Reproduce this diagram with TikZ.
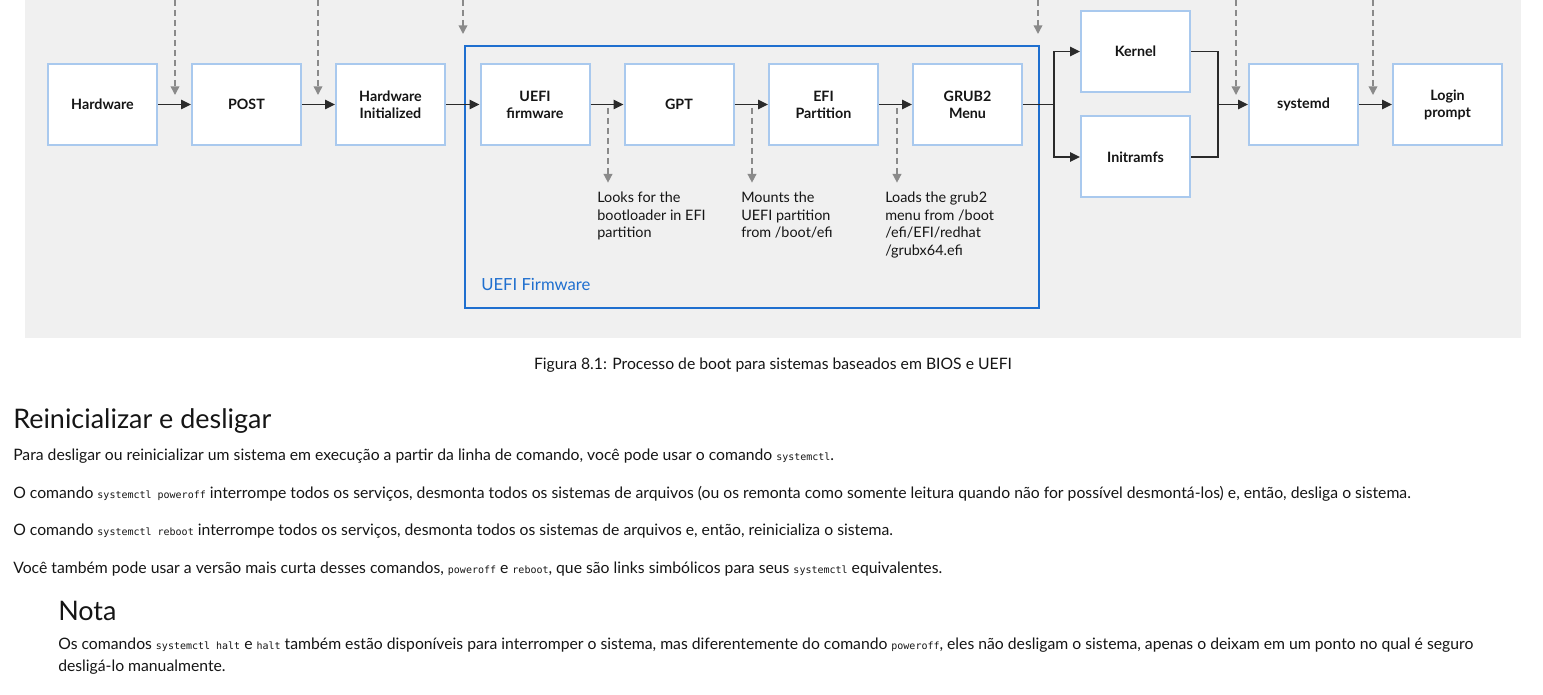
\documentclass[tikz,border=0pt]{standalone}
\usepackage{fontspec}
\setmainfont{Lato}
\setmonofont{DejaVu Sans Mono}
\usetikzlibrary{arrows.meta}
\definecolor{bggray}{HTML}{F0F0F0}
\definecolor{boxblue}{HTML}{A9C9EE}
\definecolor{frameblue}{HTML}{1F6FCF}
\definecolor{darkline}{HTML}{2A2A2A}
\definecolor{dashgray}{HTML}{8A8A8A}
\definecolor{txt}{HTML}{151515}
\newcommand\mycode[1]{{\ttfamily\fontsize{7.5}{10}\selectfont #1}}
\tikzset{
  stepbox/.style={draw=boxblue, line width=1.5pt, fill=white, minimum width=81.75pt,
    minimum height=60.75pt, inner sep=0pt, align=center, text=txt,
    font=\bfseries\fontsize{10.7}{12.8}\selectfont},
  flowline/.style={draw=darkline, line width=1.1pt},
  flow/.style={flowline, -{Triangle[length=7.5pt,width=7pt]}},
  dflow/.style={draw=dashgray, line width=1.1pt, dash pattern=on 4.5pt off 3pt,
    -{Triangle[length=6.5pt,width=6.5pt]}},
  notetext/.style={inner sep=0pt, align=left, text=txt, font=\fontsize{10.8}{13.1}\selectfont},
  body/.style={inner sep=0pt, text=txt, font=\fontsize{11.8}{14}\selectfont},
  heading/.style={inner sep=0pt, text=txt, font=\fontsize{20.2}{24}\selectfont},
}
\begin{document}
\begin{tikzpicture}[x=0.75pt,y=-0.75pt]
\useasboundingbox (0,0) rectangle (1543,695);
\fill[bggray] (25,0) rectangle (1521,338);
% frame
\draw[frameblue, line width=1.5pt] (465,46) rectangle (1039,308);
\node[anchor=west, inner sep=0pt, text=frameblue, font=\fontsize{12.5}{15}\selectfont] (uefilab) at (481,284) {UEFI Firmware};
% boxes
\node[stepbox] (hw) at (102.5,104.5) {Hardware};
\node[stepbox] (post) at (246.5,104.5) {POST};
\node[stepbox] (hwi) at (390.5,104.5) {Hardware\\Initialized};
\node[stepbox] (uefi) at (535,104.5) {UEFI\\firmware};
\node[stepbox] (gpt) at (679,104.5) {GPT};
\node[stepbox] (efi) at (823.5,104.5) {EFI\\Partition};
\node[stepbox] (grub) at (967.5,104.5) {GRUB2\\Menu};
\node[stepbox] (kern) at (1135.5,51.5) {Kernel};
\node[stepbox] (initr) at (1135.5,157) {Initramfs};
\node[stepbox] (sysd) at (1303.5,104.5) {systemd};
\node[stepbox] (login) at (1447.5,104.5) {Login\\prompt};
% flow
\draw[flow] (hw.east) -- (post.west);
\draw[flow] (post.east) -- (hwi.west);
\draw[flow] (hwi.east) -- (uefi.west);
\draw[flow] (uefi.east) -- (gpt.west);
\draw[flow] (gpt.east) -- (efi.west);
\draw[flow] (efi.east) -- (grub.west);
\coordinate (sp) at (1054,104.5);
\draw[flowline] (grub.east) -- (sp);
\draw[flow] (sp) |- (kern.west);
\draw[flow] (sp) |- (initr.west);
\coordinate (mg) at (1218,104.5);
\draw[flowline] (kern.east) -| (mg);
\draw[flowline] (initr.east) -| (mg);
\draw[flow] (mg) -- (sysd.west);
\draw[flow] (sysd.east) -- (login.west);
% top dashed arrows
\foreach \x/\e [count=\i] in {175/95, 318/95, 463/34, 1038/34, 1236/95, 1373/95} {
  \coordinate (ts\i) at (\x,0);
  \coordinate (te\i) at (\x,\e);
  \draw[dflow] (ts\i) -- (te\i);
}
% notes
\node[notetext, anchor=north west] (n1) at (597,192) {Looks for the\\bootloader in EFI\\partition};
\node[notetext, anchor=north west] (n2) at (741,192) {Mounts the\\UEFI partition\\from /boot/efi};
\node[notetext, anchor=north west] (n3) at (885,192) {Loads the grub2\\menu from /boot\\/efi/EFI/redhat\\/grubx64.efi};
\coordinate (b1) at (608,108);
\coordinate (b2) at (752,108);
\coordinate (b3) at (897,108);
\draw[dflow, shorten >=7pt] (b1) -- (b1 |- n1.north);
\draw[dflow, shorten >=7pt] (b2) -- (b2 |- n2.north);
\draw[dflow, shorten >=7pt] (b3) -- (b3 |- n3.north);
% text below
\node[body] (cap) at (773,365) {Figura 8.1: Processo de boot para sistemas baseados em BIOS e UEFI};
\node[heading, anchor=west] (h1) at (13,421) {Reinicializar e desligar};
\node[body, anchor=west] (p1) at (13,456) {Para desligar ou reinicializar um sistema em execução a partir da linha de comando, você pode usar o comando \mycode{systemctl}.};
\node[body, anchor=west] (p2) at (13,494) {O comando \mycode{systemctl poweroff} interrompe todos os serviços, desmonta todos os sistemas de arquivos (ou os remonta como somente leitura quando não for possível desmontá-los) e, então, desliga o sistema.};
\node[body, anchor=west] (p3) at (13,531) {O comando \mycode{systemctl reboot} interrompe todos os serviços, desmonta todos os sistemas de arquivos e, então, reinicializa o sistema.};
\node[body, anchor=west] (p4) at (13,569) {Você também pode usar a versão mais curta desses comandos, \mycode{poweroff} e \mycode{reboot}, que são links simbólicos para seus \mycode{systemctl} equivalentes.};
\node[heading, anchor=west] (h2) at (58,611) {Nota};
\node[body, anchor=west] (q1) at (58,645) {Os comandos \mycode{systemctl halt} e \mycode{halt} também estão disponíveis para interromper o sistema, mas diferentemente do comando \mycode{poweroff}, eles não desligam o sistema, apenas o deixam em um ponto no qual é seguro};
\node[body, anchor=west] (q2) at (58,667) {desligá-lo manualmente.};
\end{tikzpicture}
\end{document}
